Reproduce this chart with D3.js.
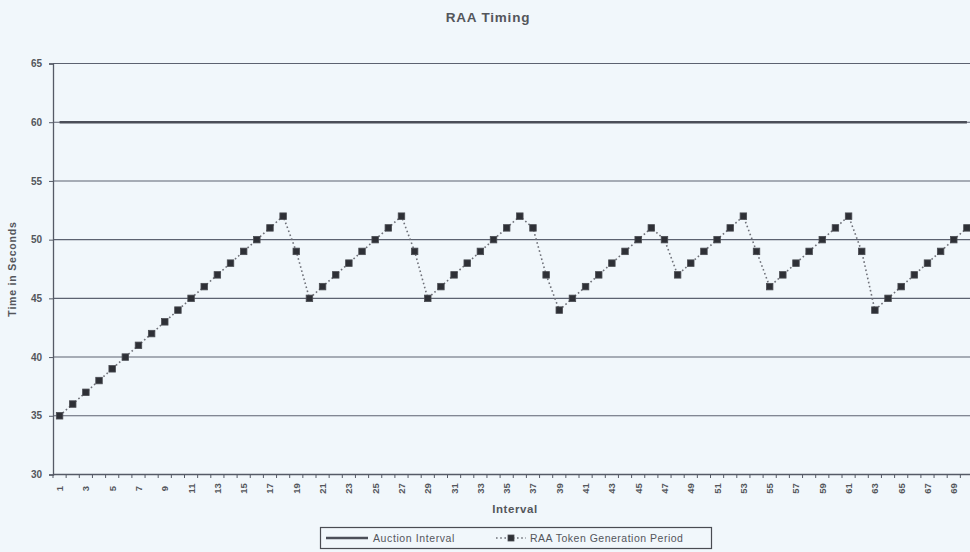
<!DOCTYPE html>
<html>
<head>
<meta charset="utf-8">
<script src="https://cdn.jsdelivr.net/npm/d3@7"></script>
<style>
  html, body { margin: 0; padding: 0; background: #f1f7fb; }
  svg { display: block; }
  text { font-family: "Liberation Sans", Arial, sans-serif; font-weight: bold; fill: #54565b; }
</style>
</head>
<body>
<svg id="chart" width="970" height="552"></svg>
<script>
// ---- data ----
const intervals = d3.range(1, 71);               // categories 1..70
const auctionInterval = intervals.map(() => 60);  // constant auction interval
const tokenPeriod = [
  35, 36, 37, 38, 39, 40, 41, 42, 43, 44,
  45, 46, 47, 48, 49, 50, 51, 52, 49, 45,
  46, 47, 48, 49, 50, 51, 52, 49, 45, 46,
  47, 48, 49, 50, 51, 52, 51, 47, 44, 45,
  46, 47, 48, 49, 50, 51, 50, 47, 48, 49,
  50, 51, 52, 49, 46, 47, 48, 49, 50, 51,
  52, 49, 44, 45, 46, 47, 48, 49, 50, 51
];
const yTicks = [30, 35, 40, 45, 50, 55, 60, 65];
const xTickLabels = intervals.filter(d => d % 2 === 1);
const titleText = "RAA Timing";
const xTitle = "Interval";
const yTitle = "Time in Seconds";
const legendLabels = ["Auction Interval", "RAA Token Generation Period"];

// ---- layout ----
const svg = d3.select("#chart");
const pL = 53, pR = 973.5, pT = 63.5, pB = 474.5;

const x = d3.scaleBand().domain(intervals).range([pL, pR]).padding(0);
const y = d3.scaleLinear().domain([30, 65]).range([pB, pT]);
const cx = d => x(d) + x.bandwidth() / 2;

// gridlines
svg.append("g").selectAll("line").data(yTicks.filter(t => t > 30)).join("line")
  .attr("x1", pL).attr("x2", 970)
  .attr("y1", d => y(d)).attr("y2", d => y(d))
  .attr("stroke", "#5c6270").attr("stroke-width", 1.1);

// y axis
const yAxis = d3.axisLeft(y).tickValues(yTicks).tickSize(4).tickPadding(7);
const gy = svg.append("g").attr("transform", `translate(${pL},0)`).call(yAxis);
gy.select(".domain").attr("stroke", "#555a66").attr("stroke-width", 1.3);
gy.selectAll(".tick line").attr("stroke", "#555a66");
gy.selectAll("text").attr("font-size", 10).attr("fill", "#5a5c61")
  .style("font-family", "Liberation Sans, Arial, sans-serif").style("font-weight", "bold");

// x axis (ticks between categories)
const gx = svg.append("g").attr("transform", `translate(0,${pB})`);
gx.append("line").attr("x1", pL).attr("x2", 970).attr("y1", 0).attr("y2", 0)
  .attr("stroke", "#555a66").attr("stroke-width", 1.3);
gx.selectAll("line.tk").data(intervals).join("line").attr("class", "tk")
  .attr("x1", d => x(d)).attr("x2", d => x(d)).attr("y1", 0).attr("y2", 3.5)
  .attr("stroke", "#555a66");
gx.selectAll("text").data(xTickLabels).join("text")
  .attr("transform", d => `translate(${cx(d) + 3.5},14) rotate(-90)`)
  .attr("text-anchor", "middle")
  .attr("font-size", 9.5)
  .attr("fill", "#5a5c61")
  .text(d => d);

// auction interval line
svg.append("path").datum(auctionInterval)
  .attr("fill", "none").attr("stroke", "#4b4e58").attr("stroke-width", 2.6)
  .attr("d", d3.line().x((d, i) => cx(intervals[i])).y(d => y(d)));

// token period dotted line
svg.append("path").datum(tokenPeriod)
  .attr("fill", "none").attr("stroke", "#6e7078").attr("stroke-width", 1.6)
  .attr("stroke-dasharray", "1.6,2.6")
  .attr("d", d3.line().x((d, i) => cx(intervals[i])).y(d => y(d)));

// markers
svg.append("g").selectAll("rect").data(tokenPeriod).join("rect")
  .attr("x", (d, i) => cx(intervals[i]) - 3.25)
  .attr("y", d => y(d) - 3.25)
  .attr("width", 6.5).attr("height", 6.5)
  .attr("fill", "#2e3036").attr("stroke", "#4a4c52").attr("stroke-width", 0.8);

// titles
svg.append("text").attr("x", 488).attr("y", 22).attr("text-anchor", "middle")
  .attr("font-size", 13.5).attr("letter-spacing", 0.8).text(titleText);
svg.append("text").attr("x", 515).attr("y", 513).attr("text-anchor", "middle")
  .attr("font-size", 11.5).attr("letter-spacing", 0.6).text(xTitle);
svg.append("text").attr("transform", `translate(16,${(pT + pB) / 2}) rotate(-90)`)
  .attr("text-anchor", "middle").attr("font-size", 10.5).attr("letter-spacing", 0.8).text(yTitle);

// legend
const lg = svg.append("g");
lg.append("rect").attr("x", 320.5).attr("y", 527.5).attr("width", 391).attr("height", 21)
  .attr("fill", "#f1f7fb").attr("stroke", "#4a4c52").attr("stroke-width", 1.2);
lg.append("line").attr("x1", 326).attr("x2", 368).attr("y1", 538).attr("y2", 538)
  .attr("stroke", "#4b4e58").attr("stroke-width", 2.6);
lg.append("text").attr("x", 373).attr("y", 542).attr("font-size", 10.5)
  .attr("letter-spacing", 0.6).style("font-weight", "normal").text(legendLabels[0]);
lg.append("line").attr("x1", 496).attr("x2", 526).attr("y1", 538).attr("y2", 538)
  .attr("stroke", "#6e7078").attr("stroke-width", 1.6).attr("stroke-dasharray", "1.6,2.6");
lg.append("rect").attr("x", 508).attr("y", 535).attr("width", 6).attr("height", 6)
  .attr("fill", "#2e3036").attr("stroke", "#4a4c52").attr("stroke-width", 0.8);
lg.append("text").attr("x", 530).attr("y", 542).attr("font-size", 10.5)
  .attr("letter-spacing", 0.5).style("font-weight", "normal").text(legendLabels[1]);
</script>
</body>
</html>
